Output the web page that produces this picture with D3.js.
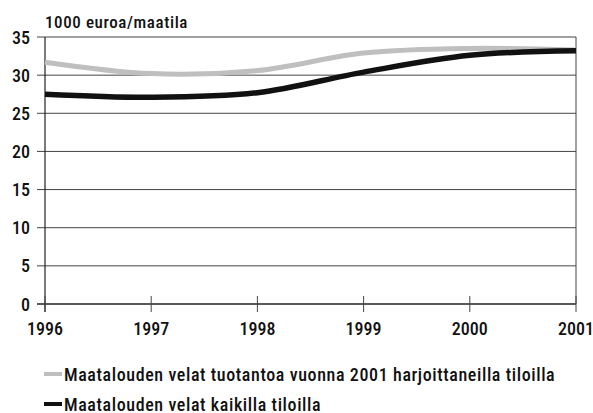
<!DOCTYPE html>
<html>
<head>
<meta charset="utf-8">
<script src="https://cdn.jsdelivr.net/npm/d3@7"></script>
<style>
  html, body { margin: 0; padding: 0; background: #fff; }
  svg text { font-family: "Roboto Condensed", "Liberation Sans Narrow", "Arial Narrow", sans-serif; fill: #111; font-weight: 500; }
</style>
</head>
<body>
<svg id="chart" width="593" height="413"></svg>
<script>
// Farm debts, 1000 euro per farm
const years = [1996, 1997, 1998, 1999, 2000, 2001];
const debtActive2001 = [31.7, 30.2, 30.6, 32.9, 33.5, 33.3];
const debtAllFarms = [27.5, 27.1, 27.7, 30.4, 32.6, 33.2];
const yTicks = [0, 5, 10, 15, 20, 25, 30, 35];
const unitLabel = "1000 euroa/maatila";
const legendLabels = [
  "Maatalouden velat tuotantoa vuonna 2001 harjoittaneilla tiloilla",
  "Maatalouden velat kaikilla tiloilla"
];
const seriesColors = ["#bfbfbf", "#111111"];

const svg = d3.select("#chart");
const m = { left: 45, right: 576, top: 37, bottom: 304 };

const x = d3.scaleLinear().domain([1996, 2001]).range([m.left, m.right]);
const y = d3.scaleLinear().domain([0, 35]).range([m.bottom, m.top]);

// horizontal gridlines with ticks sticking out to the left
svg.append("g").selectAll("line").data(yTicks).join("line")
  .attr("x1", m.left - 8).attr("x2", m.right)
  .attr("y1", d => y(d)).attr("y2", d => y(d))
  .attr("stroke", d => d === 0 ? "#222" : "#444")
  .attr("stroke-width", d => d === 0 ? 1.3 : 1);

svg.append("g").selectAll("text").data(yTicks).join("text")
  .attr("x", 30).attr("y", d => y(d) + 6.5)
  .attr("text-anchor", "end")
  .attr("font-size", 18)
  .text(d => d);

// left axis and right border
svg.append("line").attr("x1", m.left).attr("x2", m.left)
  .attr("y1", m.top).attr("y2", m.bottom + 8).attr("stroke", "#222").attr("stroke-width", 1.2);
svg.append("line").attr("x1", m.right).attr("x2", m.right)
  .attr("y1", m.top).attr("y2", m.bottom).attr("stroke", "#444").attr("stroke-width", 1);

// year ticks crossing the baseline
svg.append("g").selectAll("line").data(years).join("line")
  .attr("x1", d => x(d)).attr("x2", d => x(d))
  .attr("y1", m.bottom - 8).attr("y2", m.bottom + 8)
  .attr("stroke", "#444").attr("stroke-width", 1);

svg.append("g").selectAll("text").data(years).join("text")
  .attr("x", d => x(d)).attr("y", 335)
  .attr("text-anchor", "middle")
  .attr("font-size", 18)
  .text(d => d);

svg.append("text").attr("x", 45).attr("y", 28)
  .attr("font-size", 17).attr("letter-spacing", 0.6).text(unitLabel);

// series lines
const line = d3.line().x((d, i) => x(years[i])).y(d => y(d)).curve(d3.curveCatmullRom.alpha(0.5));
[debtActive2001, debtAllFarms].forEach((vals, k) => {
  svg.append("path").datum(vals)
    .attr("d", line)
    .attr("fill", "none")
    .attr("stroke", seriesColors[k])
    .attr("stroke-width", k === 0 ? 5 : 5.5)
    .attr("stroke-linecap", "butt");
});

// legend
const lg = svg.append("g");
legendLabels.forEach((t, i) => {
  const ly = 374 + i * 30;
  lg.append("line").attr("x1", 44).attr("x2", 62)
    .attr("y1", ly).attr("y2", ly)
    .attr("stroke", seriesColors[i]).attr("stroke-width", 4);
  lg.append("text").attr("x", 64).attr("y", ly + 6.5)
    .attr("font-size", 18).attr("letter-spacing", 0.6).text(t);
});
</script>
</body>
</html>
